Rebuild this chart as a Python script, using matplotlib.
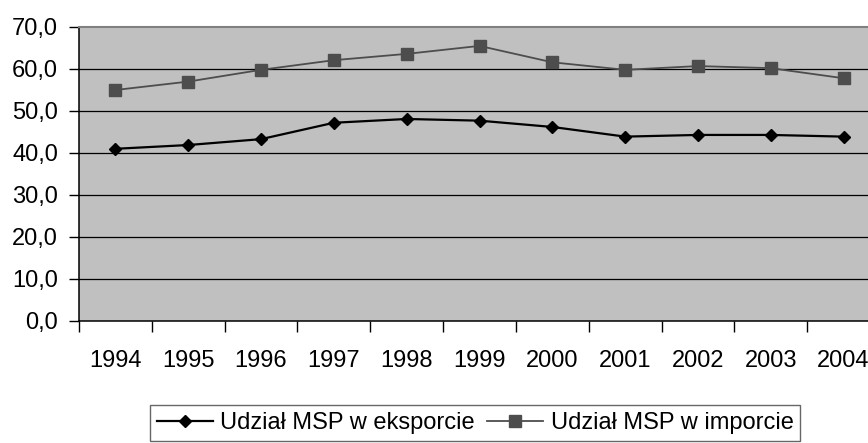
import numpy as np
import matplotlib; matplotlib.use('Agg'); import matplotlib.pyplot as plt
from matplotlib.ticker import FuncFormatter

# ---------------- data ----------------
years   = ['1994', '1995', '1996', '1997', '1998', '1999', '2000', '2001', '2002', '2003', '2004']
eksport = [41.0, 41.9, 43.3, 47.2, 48.1, 47.7, 46.2, 43.9, 44.3, 44.3, 43.9]
import_ = [55.0, 57.0, 59.8, 62.1, 63.6, 65.5, 61.6, 59.8, 60.7, 60.2, 57.8]
yticks  = [0, 10, 20, 30, 40, 50, 60, 70]

plt.rcParams['font.family'] = ['Liberation Sans', 'DejaVu Sans']
FS = 17

W, H = 868, 443
fig = plt.figure(figsize=(W / 100, H / 100), dpi=100)
# plot area runs past the right edge of the picture, as in the source
ax = fig.add_axes([79 / W, (H - 321) / H, 801 / W, 294 / H])
ax.set_facecolor('#c0c0c0')

x = np.arange(len(years))
ax.plot(x, eksport, color='black', lw=1.6, marker='D', ms=6.2, mfc='black', mec='black',
        label='Udział MSP w eksporcie', zorder=3)
ax.plot(x, import_, color='#4d4d4d', lw=1.3, marker='s', ms=8, mfc='#4d4d4d', mec='#4d4d4d',
        label='Udział MSP w imporcie', zorder=3)

ax.set_xlim(-0.5, len(years) - 0.5)
ax.set_ylim(0, 70)
ax.set_yticks(yticks)
ax.yaxis.set_major_formatter(FuncFormatter(lambda v, p: f'{v:.1f}'.replace('.', ',')))
for v in yticks[1:-1]:
    ax.axhline(v, color='black', lw=0.9, zorder=1)

# year labels centred on categories, tick marks on category boundaries
ax.set_xticks(x)
ax.set_xticklabels(years)
ax.set_xticks(np.arange(-0.5, len(years)), minor=True)
ax.tick_params(axis='x', which='major', length=0, pad=21, labelsize=FS)
ax.tick_params(axis='x', which='minor', length=8, width=1, direction='out', color='black')
ax.tick_params(axis='y', length=7, width=1, direction='out', pad=8, labelsize=FS)

for s in ['left', 'bottom']:
    ax.spines[s].set_color('black'); ax.spines[s].set_linewidth(1.1)
ax.spines['top'].set_color('#808080'); ax.spines['top'].set_linewidth(1.5)
ax.spines['right'].set_visible(False)

leg = fig.legend(loc='upper center', bbox_to_anchor=(475 / W, 1 - 405 / H), ncol=2,
                 fontsize=FS, frameon=True, fancybox=False, edgecolor='#404040',
                 handlelength=2.4, handletextpad=0.3, columnspacing=0.5, borderaxespad=0,
                 borderpad=0.3)
leg.get_frame().set_linewidth(1.0)

fig.savefig('out.png', dpi=100)
